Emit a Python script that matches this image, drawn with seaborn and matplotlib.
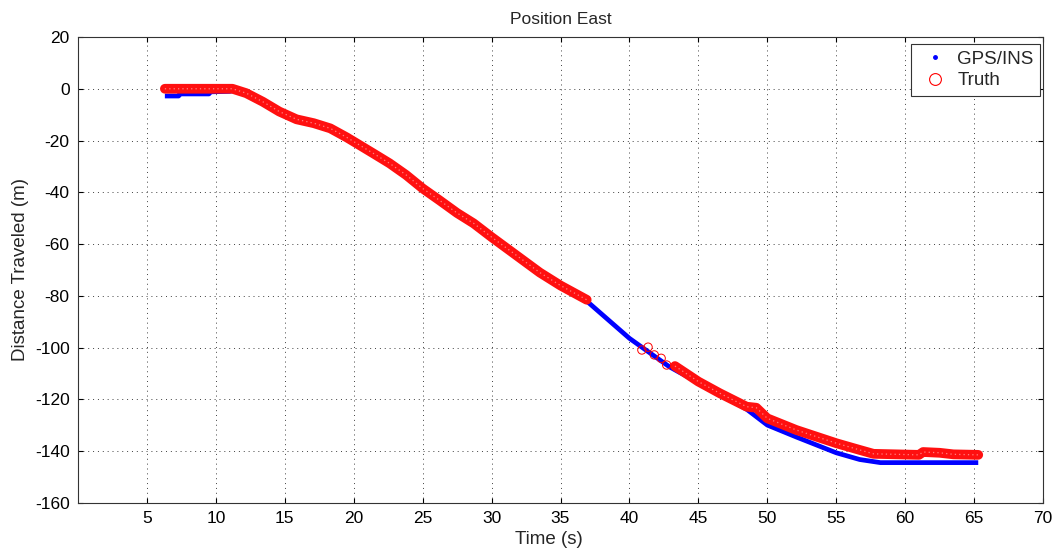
import numpy as np
import pandas as pd
import matplotlib
matplotlib.use("Agg")
import matplotlib.pyplot as plt
from matplotlib.lines import Line2D
import seaborn as sns

# GPS/INS east position solution (time in s, position in m)
gps_time = [6.3, 7.3, 7.4, 9.5, 9.6, 11.0, 11.5, 12.2, 13.4, 14.6, 15.85, 17.1,
            18.3, 19.5, 20.0, 21.4, 22.6, 23.8, 25.0, 26.2, 27.5, 28.7, 30.0,
            33.5, 35.0, 36.9, 40.0, 42.9, 43.65, 45.0, 46.55, 48.5, 50.0, 52.1,
            55.0, 56.7, 58.2, 65.3]
gps_east = [-2.8, -2.8, -2.0, -2.0, -1.2, -1.0, -0.5, -1.9, -5.2, -9.0, -12.0, -13.5,
            -15.5, -19.0, -20.6, -25.1, -29.0, -33.5, -38.7, -43.3, -48.3, -52.3, -57.6,
            -71.2, -76.2, -82.0, -96.4, -107.4, -109.6, -113.4, -118.0, -123.8, -129.9, -134.5,
            -140.6, -143.2, -144.4, -144.4]

# Truth track, first continuous stretch
truth_a_time = [6.3, 11.2, 12.2, 13.4, 14.6, 15.85, 17.1, 18.3, 19.5, 20.0, 21.4,
                22.6, 23.8, 25.0, 26.2, 27.5, 28.7, 30.0, 33.5, 35.0, 36.9]
truth_a_east = [0.0, 0.0, -1.7, -5.0, -8.8, -11.8, -13.3, -15.3, -18.8, -20.4, -24.9,
                -28.8, -33.3, -38.5, -43.0, -48.0, -52.0, -57.3, -71.0, -76.0, -81.5]

# Truth track, second continuous stretch
truth_b_time = [43.3, 45.0, 46.55, 48.5, 49.2, 50.0, 52.1, 55.0, 56.7, 57.7,
                61.0, 61.3, 62.5, 63.5, 65.3]
truth_b_east = [-107.1, -113.1, -117.6, -122.8, -123.2, -127.3, -131.8, -136.9, -139.5, -141.0,
                -141.4, -140.3, -140.6, -141.2, -141.4]

# Sparse truth samples between the two stretches
truth_gap_time = [40.9, 41.35, 41.8, 42.3, 42.7]
truth_gap_east = [-100.9, -99.8, -102.8, -104.1, -106.7]

x_ticks = [5, 10, 15, 20, 25, 30, 35, 40, 45, 50, 55, 60, 65, 70]
y_ticks = [-160, -140, -120, -100, -80, -60, -40, -20, 0, 20]

title = "Position East"
x_label = "Time (s)"
y_label = "Distance Traveled (m)"
series_names = ["GPS/INS", "Truth"]

sns.set_theme(style="ticks")
plt.rcParams["font.family"] = ["Liberation Sans", "DejaVu Sans"]
plt.rcParams["axes.unicode_minus"] = False

gps_df = pd.DataFrame({"time": gps_time, "east": gps_east})
truth_a_df = pd.DataFrame({"time": truth_a_time, "east": truth_a_east})
truth_b_df = pd.DataFrame({"time": truth_b_time, "east": truth_b_east})
gap_df = pd.DataFrame({"time": truth_gap_time, "east": truth_gap_east})

fig = plt.figure(figsize=(10.6, 5.56), dpi=100)
ax = fig.add_axes([0.0736, 0.0953, 0.9104, 0.8382])

# GPS/INS dots, densely sampled so they read as a solid blue trace
sns.lineplot(data=gps_df, x="time", y="east", ax=ax, sort=False, estimator=None,
             color="#0000ff", linewidth=3.4, solid_capstyle="butt", zorder=3)

# Truth circles, densely overlapping into a red band
for seg in (truth_a_df, truth_b_df):
    sns.lineplot(data=seg, x="time", y="east", ax=ax, sort=False, estimator=None,
                 color="#ff1010", linewidth=7.0, solid_capstyle="round",
                 solid_joinstyle="round", zorder=4)
    sns.lineplot(data=seg, x="time", y="east", ax=ax, sort=False, estimator=None,
                 color="#ffb0b0", linewidth=0.9, zorder=5,
                 linestyle=(0, (1, 2.5)), alpha=0.7)

sns.scatterplot(data=gap_df, x="time", y="east", ax=ax, marker="o", s=36,
                facecolor="none", edgecolor="#ff0000", linewidth=0.7, zorder=6)

ax.set_xlim(0, 70)
ax.set_ylim(-160, 20)
ax.set_xticks(x_ticks)
ax.set_yticks(y_ticks)
ax.tick_params(direction="in", length=3.6, width=0.8, top=True, right=True,
               labelsize=12.5, colors="black", pad=6)
ax.grid(True, color="0.25", linestyle=(0, (1, 4)), linewidth=0.7)
for sp in ax.spines.values():
    sp.set_color("0.2")
    sp.set_linewidth(0.8)

ax.set_title(title, fontsize=12.5, pad=9)
ax.set_xlabel(x_label, fontsize=13.5)
ax.set_ylabel(y_label, fontsize=13.5)
ax.xaxis.set_label_coords(0.488, -0.061)
ax.yaxis.set_label_coords(-0.051, 0.5)

handles = [
    Line2D([], [], marker=".", linestyle="none", color="#0000ff", markersize=5),
    Line2D([], [], marker="o", linestyle="none", markerfacecolor="none",
           markeredgecolor="#ff0000", markersize=8.5, markeredgewidth=0.8),
]
leg = ax.legend(handles, series_names, loc="upper right", bbox_to_anchor=(0.997, 0.985),
                fontsize=13.5, frameon=True, fancybox=False, framealpha=1,
                edgecolor="0.2", borderpad=0.35, handletextpad=0.3, labelspacing=0.25,
                handlelength=1.8, borderaxespad=0)
leg.get_frame().set_linewidth(0.8)

fig.savefig("out.png", dpi=100, facecolor="white")
